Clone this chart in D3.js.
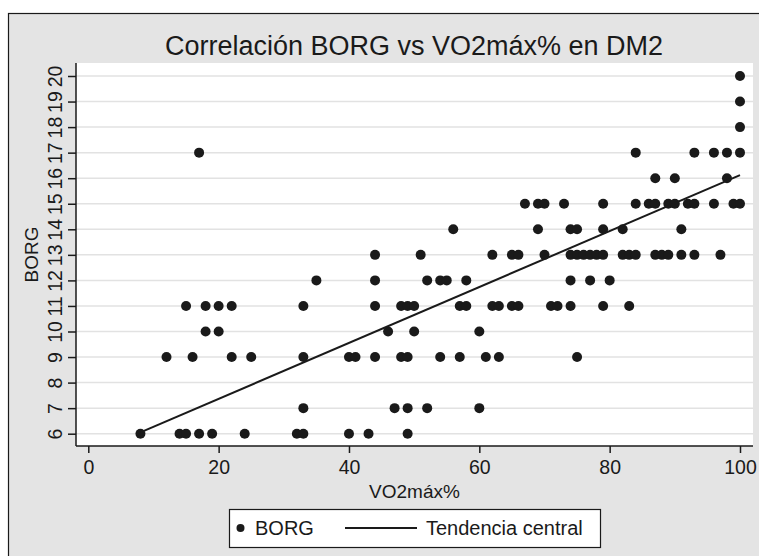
<!DOCTYPE html>
<html>
<head>
<meta charset="utf-8">
<script src="https://cdn.jsdelivr.net/npm/d3@7"></script>
<style>
  html, body { margin: 0; padding: 0; background: #ffffff; }
  svg { display: block; }
  text { font-family: "Liberation Sans", Arial, Helvetica, sans-serif; fill: #1a1a1a; }
</style>
</head>
<body>
<svg id="chart" width="759" height="556"></svg>
<script>
// ---- Data ----
const title = "Correlación BORG vs VO2máx% en DM2";
const xLabel = "VO2máx%";
const yLabel = "BORG";
const xTicks = [0, 20, 40, 60, 80, 100];
const yTicks = [6, 7, 8, 9, 10, 11, 12, 13, 14, 15, 16, 17, 18, 19, 20];
const legendLabels = ["BORG", "Tendencia central"];

// VO2máx% values and matching BORG values (one entry per point)
const vo2 = [
  100,
  100,
  100,
  17, 84, 93, 96, 98, 100,
  87, 90, 98,
  67, 69, 70, 73, 79, 84, 86, 87, 89, 90, 92, 93, 96, 99, 100,
  56, 69, 74, 75, 79, 82, 91,
  44, 51, 62, 65, 66, 70, 74, 75, 76, 77, 78, 79, 82, 83, 84, 87, 88, 89, 91, 93, 97,
  35, 44, 52, 54, 55, 58, 74, 77, 80,
  15, 18, 20, 22, 33, 44, 48, 49, 50, 57, 58, 62, 63, 65, 66, 71, 72, 74, 79, 83,
  18, 20, 46, 50, 60,
  12, 16, 22, 25, 33, 40, 41, 44, 48, 49, 54, 57, 61, 63, 75,
  33, 47, 49, 52, 60,
  8, 14, 15, 17, 19, 24, 32, 33, 40, 43, 49
];
const borg = [
  20,
  19,
  18,
  17, 17, 17, 17, 17, 17,
  16, 16, 16,
  15, 15, 15, 15, 15, 15, 15, 15, 15, 15, 15, 15, 15, 15, 15,
  14, 14, 14, 14, 14, 14, 14,
  13, 13, 13, 13, 13, 13, 13, 13, 13, 13, 13, 13, 13, 13, 13, 13, 13, 13, 13, 13, 13,
  12, 12, 12, 12, 12, 12, 12, 12, 12,
  11, 11, 11, 11, 11, 11, 11, 11, 11, 11, 11, 11, 11, 11, 11, 11, 11, 11, 11, 11,
  10, 10, 10, 10, 10,
  9, 9, 9, 9, 9, 9, 9, 9, 9, 9, 9, 9, 9, 9, 9,
  7, 7, 7, 7, 7,
  6, 6, 6, 6, 6, 6, 6, 6, 6, 6, 6
];

// Trend line ("Tendencia central") endpoints
const trendX = [8, 100];
const trendY = [6.05, 16.12];

// ---- Drawing ----
const svg = d3.select("#chart");
const ink = "#1a1a1a";

// Outer graph region (light gray, with border)
svg.append("rect")
  .attr("x", 8.5).attr("y", 13.5)
  .attr("width", 770).attr("height", 570)
  .attr("fill", "#e4e4e4")
  .attr("stroke", ink).attr("stroke-width", 1.2);

// Plot region
const plot = { left: 76, right: 753, top: 63, bottom: 446 };
svg.append("rect")
  .attr("x", plot.left).attr("y", plot.top)
  .attr("width", plot.right - plot.left).attr("height", plot.bottom - plot.top)
  .attr("fill", "#ffffff");

const x = d3.scaleLinear().domain([0, 100]).range([88.3, 740]);
const y = d3.scaleLinear().domain([6, 20]).range([433.7, 76]);

// Gridlines
svg.append("g")
  .selectAll("line")
  .data(yTicks)
  .join("line")
  .attr("x1", plot.left).attr("x2", plot.right)
  .attr("y1", d => y(d)).attr("y2", d => y(d))
  .attr("stroke", "#e2e2e2").attr("stroke-width", 1.5);

// Y axis
const yAxis = svg.append("g")
  .attr("transform", `translate(${plot.left},0)`)
  .call(d3.axisLeft(y).tickValues(yTicks).tickSize(8).tickFormat(d3.format("d")));
yAxis.select(".domain").remove();
yAxis.selectAll(".tick line").attr("stroke", ink).attr("stroke-width", 1.5);
yAxis.selectAll(".tick text")
  .attr("transform", "rotate(-90)")
  .attr("x", 0).attr("y", -14).attr("dy", null)
  .attr("text-anchor", "middle")
  .style("font-size", "19.5px")
  .style("font-family", "'Liberation Sans', Arial, sans-serif")
  .attr("fill", ink);
svg.append("line")
  .attr("x1", plot.left).attr("x2", plot.left)
  .attr("y1", plot.top).attr("y2", plot.bottom)
  .attr("stroke", ink).attr("stroke-width", 1.5);

// X axis
const xAxis = svg.append("g")
  .attr("transform", `translate(0,${plot.bottom})`)
  .call(d3.axisBottom(x).tickValues(xTicks).tickSize(7).tickPadding(7));
xAxis.select(".domain").remove();
xAxis.selectAll(".tick line").attr("stroke", ink).attr("stroke-width", 1.5);
xAxis.selectAll(".tick text")
  .style("font-size", "19.5px")
  .style("font-family", "'Liberation Sans', Arial, sans-serif")
  .attr("fill", ink);
svg.append("line")
  .attr("x1", plot.left).attr("x2", plot.right)
  .attr("y1", plot.bottom).attr("y2", plot.bottom)
  .attr("stroke", ink).attr("stroke-width", 1.5);

// Points
const pts = vo2.map((v, i) => ({ v, b: borg[i] }));
svg.append("g")
  .selectAll("circle")
  .data(pts)
  .join("circle")
  .attr("cx", d => x(d.v))
  .attr("cy", d => y(d.b))
  .attr("r", 5)
  .attr("fill", ink);

// Trend line
svg.append("line")
  .attr("x1", x(trendX[0])).attr("y1", y(trendY[0]))
  .attr("x2", x(trendX[1])).attr("y2", y(trendY[1]))
  .attr("stroke", ink).attr("stroke-width", 2);

// Title
svg.append("text")
  .attr("x", 414).attr("y", 55)
  .attr("text-anchor", "middle")
  .style("font-size", "27px")
  .text(title);

// Axis titles
svg.append("text")
  .attr("x", (plot.left + plot.right) / 2).attr("y", 498)
  .attr("text-anchor", "middle")
  .style("font-size", "19px")
  .text(xLabel);
svg.append("text")
  .attr("transform", `translate(38,${(plot.top + plot.bottom) / 2}) rotate(-90)`)
  .attr("text-anchor", "middle")
  .style("font-size", "19px")
  .text(yLabel);

// Legend
const lg = svg.append("g");
lg.append("rect")
  .attr("x", 229.5).attr("y", 509.5)
  .attr("width", 371).attr("height", 38)
  .attr("fill", "#ffffff").attr("stroke", ink).attr("stroke-width", 1.2);
lg.append("circle").attr("cx", 240.5).attr("cy", 528).attr("r", 4).attr("fill", ink);
lg.append("text").attr("x", 255).attr("y", 535).style("font-size", "20px").text(legendLabels[0]);
lg.append("line").attr("x1", 345).attr("x2", 417).attr("y1", 528).attr("y2", 528)
  .attr("stroke", ink).attr("stroke-width", 2);
lg.append("text").attr("x", 426).attr("y", 535).style("font-size", "20px").text(legendLabels[1]);
</script>
</body>
</html>
